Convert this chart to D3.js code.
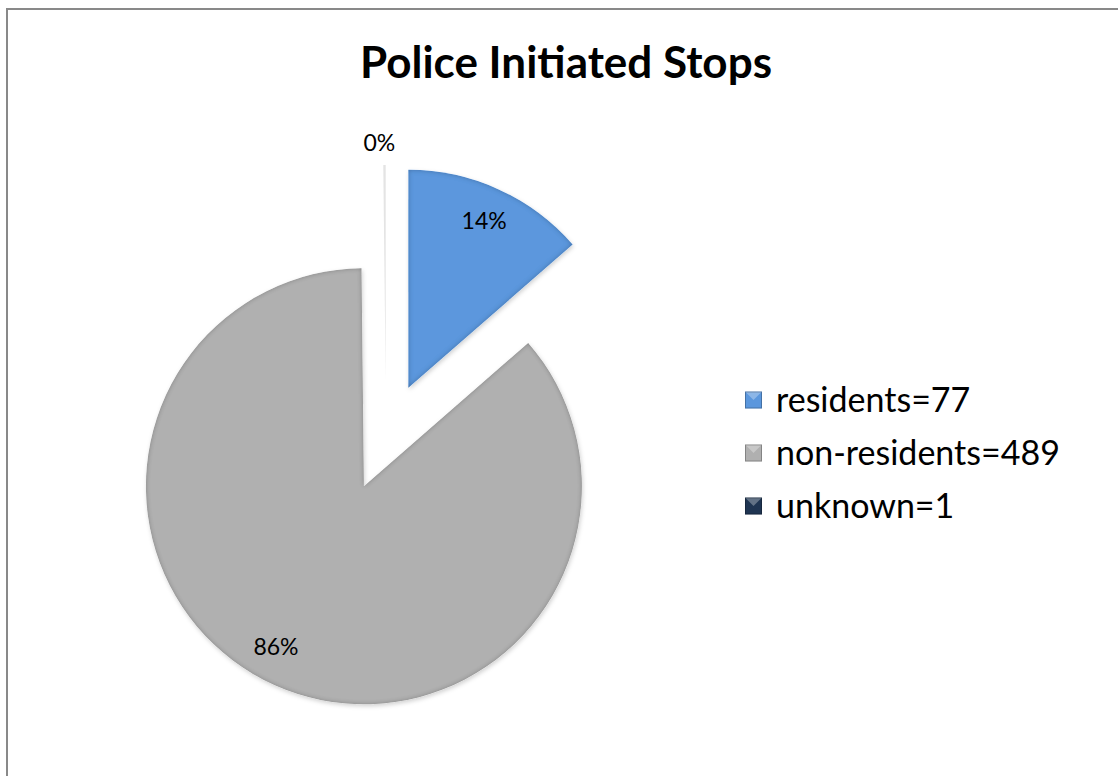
<!DOCTYPE html>
<html>
<head>
<meta charset="utf-8">
<script src="https://cdn.jsdelivr.net/npm/d3@7"></script>
<style>
  html, body { margin: 0; padding: 0; background: #fff; }
  svg { display: block; }
</style>
</head>
<body>
<svg id="chart" width="1118" height="776"></svg>
<script>
const title = "Police Initiated Stops";
const categories = ["residents", "non-residents", "unknown"];
const values = [77, 489, 1];
const legendLabels = ["residents=77", "non-residents=489", "unknown=1"];
const sliceColors = ["#5b97dd", "#b0b0b0", "#e4e4e4"];
const legendColors = ["#5b97dd", "#b0b0b0", "#1f3552"];

const W = 1118, H = 776;
const svg = d3.select("#chart");
const fontFam = "Lato, 'Open Sans', 'Liberation Sans', sans-serif";

// frame
svg.append("rect").attr("x", 7).attr("y", 9).attr("width", W + 20).attr("height", H + 20)
  .attr("fill", "#fff").attr("stroke", "#898989").attr("stroke-width", 2);

// filters
const defs = svg.append("defs");
const bevel = defs.append("filter").attr("id", "bevel")
  .attr("x", "-10%").attr("y", "-10%").attr("width", "120%").attr("height", "120%");
bevel.append("feGaussianBlur").attr("in", "SourceAlpha").attr("stdDeviation", 2.5).attr("result", "blur");
bevel.append("feComposite").attr("in", "SourceAlpha").attr("in2", "blur").attr("operator", "arithmetic")
  .attr("k2", 1).attr("k3", -1).attr("result", "rim");
bevel.append("feFlood").attr("flood-color", "#000").attr("flood-opacity", 0.5).attr("result", "dark");
bevel.append("feComposite").attr("in", "dark").attr("in2", "rim").attr("operator", "in").attr("result", "rimDark");
bevel.append("feGaussianBlur").attr("in", "SourceAlpha").attr("stdDeviation", 2).attr("result", "sblur");
bevel.append("feOffset").attr("in", "sblur").attr("dx", 1).attr("dy", 2).attr("result", "soff");
bevel.append("feFlood").attr("flood-color", "#000").attr("flood-opacity", 0.18).attr("result", "sc");
bevel.append("feComposite").attr("in", "sc").attr("in2", "soff").attr("operator", "in").attr("result", "shadow");
const m = bevel.append("feMerge");
m.append("feMergeNode").attr("in", "shadow");
m.append("feMergeNode").attr("in", "SourceGraphic");
m.append("feMergeNode").attr("in", "rimDark");

// title
svg.append("text").attr("x", 566).attr("y", 78).attr("text-anchor", "middle")
  .attr("font-family", fontFam).attr("font-weight", "bold").attr("font-size", 44)
  .attr("fill", "#000").text(title);

// pie
const cx = 386, cy = 437, R = 218, explode = 54;
const pie = d3.pie().sort(null).value(d => d)(values);
const total = d3.sum(values);
const arc = d3.arc().innerRadius(0).outerRadius(R);
const pct = d3.format(".0%");

const g = svg.append("g").attr("transform", `translate(${cx},${cy})`);
pie.forEach((p, i) => {
  const mid = (p.startAngle + p.endAngle) / 2;
  const ox = explode * Math.sin(mid), oy = -explode * Math.cos(mid);
  const sg = g.append("g").attr("transform", `translate(${ox},${oy})`);
  sg.append("path").attr("d", arc(p)).attr("fill", sliceColors[i])
    .attr("filter", i === 2 ? null : "url(#bevel)");
  const small = (p.endAngle - p.startAngle) < 0.1;
  const lr = small ? R + 22 : R * 0.84;
  const la = small ? mid : mid + (mid > Math.PI ? 0.08 : 0);
  sg.append("text")
    .attr("x", lr * Math.sin(la) - (small ? 5 : 0))
    .attr("y", -lr * Math.cos(la))
    .attr("dy", "0.35em").attr("text-anchor", "middle")
    .attr("font-family", fontFam).attr("font-size", 23).attr("fill", "#000")
    .text(pct(values[i] / total));
});

// legend
const lg = svg.append("g").attr("transform", "translate(745,400)");
const ly = d3.scalePoint().domain(categories).range([0, 106]);
categories.forEach((c, i) => {
  const row = lg.append("g").attr("transform", `translate(0,${ly(c)})`);
  const s = 17;
  row.append("rect").attr("x", 0).attr("y", -s / 2).attr("width", s).attr("height", s)
    .attr("fill", legendColors[i]);
  row.append("path").attr("d", `M0,${-s/2} L${s/2},0 L${s},${-s/2} Z`)
    .attr("fill", "#fff").attr("opacity", 0.3);
  row.append("rect").attr("x", 0.5).attr("y", -s / 2 + 0.5).attr("width", s - 1).attr("height", s - 1)
    .attr("fill", "none").attr("stroke", "#000").attr("stroke-opacity", 0.25);
  row.append("text").attr("x", 31).attr("y", 0).attr("dy", "0.35em")
    .attr("font-family", fontFam).attr("font-size", 34).attr("fill", "#000")
    .text(legendLabels[i]);
});
</script>
</body>
</html>
